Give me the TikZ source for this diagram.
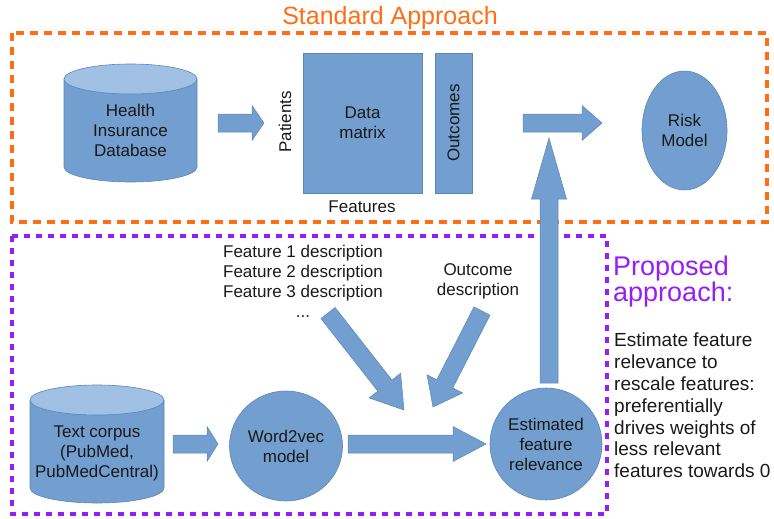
\documentclass[tikz,border=0pt]{standalone}
\usepackage{fontspec}
\setmainfont{Liberation Sans}
\usetikzlibrary{calc,shapes.geometric}
\definecolor{bfill}{RGB}{114,159,207}
\definecolor{bline}{RGB}{90,134,186}
\definecolor{btop}{RGB}{160,192,228}
\definecolor{orangec}{RGB}{255,110,20}
\definecolor{purplec}{RGB}{150,30,245}
\definecolor{txt}{RGB}{25,25,25}
\tikzset{
  lbl/.style={text=txt, font=\fontsize{17}{20}\selectfont, align=center, inner sep=0pt},
  blob/.style={fill=bfill, draw=bline, line width=0.6pt},
  arrowfill/.style={fill=bfill, draw=bline, line width=0.5pt},
  orangedash/.style={draw=orangec, line width=3.5pt, dash pattern=on 8pt off 6pt},
  purpledash/.style={draw=purplec, line width=3.5pt, dash pattern=on 6pt off 6pt},
}
% block arrow: from, to, shaft half width, head half width, head length
\newcommand\blockarrow[5]{%
  \coordinate (hb) at ($(#2)!#5!(#1)$);
  \fill[arrowfill] ($(#1)!#3!90:(#2)$) -- ($(hb)!#3!-90:(#1)$) -- ($(hb)!#4!-90:(#1)$) -- (#2)
     -- ($(hb)!#4!90:(#1)$) -- ($(hb)!#3!90:(#1)$) -- ($(#1)!#3!-90:(#2)$) -- cycle;
}
% cylinder: left, right, top centre y, bottom centre y, y radius
\newcommand\dbcyl[5]{%
  \pgfmathsetmacro\rxx{(#2-#1)/2}
  \pgfmathsetmacro\cxx{(#2+#1)/2}
  \fill[bfill] (#1,#3) -- (#1,#4) arc[start angle=180, end angle=0, x radius=\rxx, y radius=#5] -- (#2,#3) -- cycle;
  \draw[bline, line width=0.6pt] (#1,#3) -- (#1,#4) arc[start angle=180, end angle=0, x radius=\rxx, y radius=#5] -- (#2,#3);
  \draw[bline, line width=0.6pt, fill=btop] (\cxx,#3) ellipse[x radius=\rxx, y radius=#5];
}
\begin{document}
\begin{tikzpicture}[x=1pt,y=-1pt]
\useasboundingbox (0,0) rectangle (774,519);

% frames
\draw[orangedash] (12,33) rectangle (767,222);
\draw[purpledash] (12,236) rectangle (607,514);
\node[text=orangec, font=\fontsize{25}{28}\selectfont, inner sep=0pt] (std) at (390,18.5) {Standard Approach};

% top row
\dbcyl{64}{197}{79}{167}{15}
\node[lbl] (hdb) at (130.5,130) {Health\\Insurance\\Database};
\coordinate (a1s) at (218,123); \coordinate (a1e) at (264,123);
\blockarrow{a1s}{a1e}{9pt}{17.5pt}{12pt}
\node[lbl, rotate=90] (pat) at (285,122) {Patients};
\node[blob, rectangle, minimum width=119pt, minimum height=140pt, inner sep=0pt] (dm) at (362.5,123) {};
\node[lbl] (dmt) at (dm.center) {Data\\matrix};
\node[blob, rectangle, minimum width=37pt, minimum height=140pt, inner sep=0pt] (out) at (453.5,123) {};
\node[lbl, rotate=90] (outt) at (out.center) {Outcomes};
\node[lbl] (feat) at (362,207) {Features};
\coordinate (a2s) at (523,123); \coordinate (a2e) at (602,123);
\blockarrow{a2s}{a2e}{9pt}{17.5pt}{20pt}
\node[blob, ellipse, minimum width=85pt, minimum height=119pt, inner sep=0pt] (risk) at (684.5,130.5) {};
\node[lbl] (riskt) at (risk.center) {Risk\\Model};

% bottom row
\node[lbl, anchor=north] (fdesc) at (303,245) {Feature 1 description\\Feature 2 description\\Feature 3 description\\...};
\node[lbl] (odesc) at (478,281) {Outcome\\description};
\dbcyl{30}{164}{400}{488}{15}
\node[lbl] (tc) at (97,453) {Text corpus\\(PubMed,\\PubMedCentral)};
\coordinate (a3s) at (173,444); \coordinate (a3e) at (218,444);
\blockarrow{a3s}{a3e}{9pt}{17.5pt}{11pt}
\node[blob, ellipse, minimum width=113pt, minimum height=110pt, inner sep=0pt] (w2v) at (286,446) {};
\node[lbl] (w2vt) at (w2v.center) {Word2vec\\model};
\coordinate (a4s) at (348,444); \coordinate (a4e) at (486,444);
\blockarrow{a4s}{a4e}{9pt}{17.5pt}{33pt}
\node[blob, ellipse, minimum width=112pt, minimum height=112pt, inner sep=0pt] (est) at (546,444) {};
\node[lbl] (estt) at (est.center) {Estimated\\feature\\relevance};
\coordinate (a5s) at (328,313); \coordinate (a5e) at (404,410);
\blockarrow{a5s}{a5e}{9pt}{20pt}{31pt}
\coordinate (a6s) at (482,311); \coordinate (a6e) at (433,407);
\blockarrow{a6s}{a6e}{9pt}{20pt}{26pt}
\coordinate (a7s) at (549,383); \coordinate (a7e) at (549,138);
\blockarrow{a7s}{a7e}{9pt}{17.5pt}{61pt}

% right side text
\node[text=purplec, font=\fontsize{27}{26}\selectfont, align=left, anchor=north west, inner sep=0pt] (prop) at (613,256) {Proposed\\approach:};
\node[text=txt, font=\fontsize{19}{21.8}\selectfont, align=left, anchor=north west, inner sep=0pt] (expl) at (614,333) {Estimate feature\\relevance to\\rescale features:\\preferentially\\drives weights of\\less relevant\\features towards 0};
\end{tikzpicture}
\end{document}
